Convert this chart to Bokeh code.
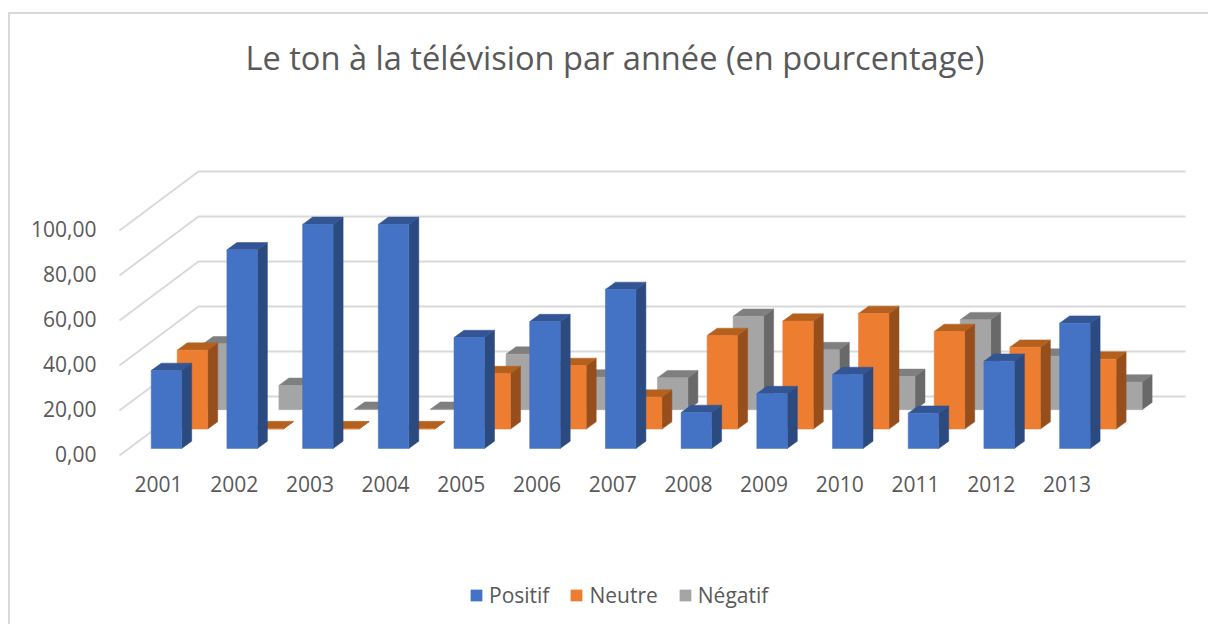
from bokeh.plotting import figure
from bokeh.embed import file_html
from bokeh.resources import INLINE
from bokeh.models import (Range1d, LinearAxis, FixedTicker, Legend, LegendItem, Title)

years = ["2001","2002","2003","2004","2005","2006","2007","2008","2009","2010","2011","2012","2013"]
positif = [34.7,88.3,99.6,99.6,49.3,56.4,70.7,16.0,24.4,32.9,15.7,38.8,55.7]
neutre  = [35.1,0.2,0.2,0.2,24.7,28.3,14.2,41.6,48.0,51.4,43.4,36.4,31.1]
negatif = [29.3,10.8,0.2,0.2,24.7,14.5,14.2,41.5,26.7,14.8,40.0,23.8,12.3]
y_ticks = [0,20,40,60,80,100]
y_labels = ["0,00","20,00","40,00","60,00","80,00","100,00"]
title_text = "Le ton à la télévision par année (en pourcentage)"
FONT = "Open Sans"
TXT = "#595959"
GRID = "#D9D9D9"

PX_X = 1/75.7      # one pixel in category units
PX_Y = 1/2.25      # one pixel in value units

p = figure(width=1198, height=610, output_backend="svg", toolbar_location=None,
           x_range=Range1d((10-158)*PX_X, (1208-158)*PX_X),
           y_range=Range1d((453-624)*PX_Y, (453-86)*PX_Y),
           min_border_left=0, min_border_right=0, min_border_bottom=0, min_border_top=72,
           x_axis_location=None, y_axis_location=None, outline_line_color=None,
           margin=(14, 0, 0, 10),
           styles={"box-shadow": f"-2px 0 0 0 {GRID}, 0 -2px 0 0 {GRID}, -2px -2px 0 0 {GRID}"})
p.xgrid.visible = False
p.ygrid.visible = False

t = Title(text=title_text, text_font=FONT, text_font_size="32.6px", text_font_style="normal",
          text_color=TXT, align="left", offset=235, standoff=13)
p.add_layout(t, "above")

# floor/wall gridlines
fx0, fy0 = (119-158)*PX_X, -2*PX_Y
dx, dy = 79*PX_X, 59*PX_Y
xend = (1185-158)*PX_X
p.multi_line([[fx0, fx0+dx, xend] for _ in y_ticks],
             [[v+fy0, v+fy0+dy, v+fy0+dy] for v in y_ticks],
             line_color=GRID, line_width=2)

LEFT0, WIDTH = -7.3*PX_X, 30.5*PX_X
ROW_X, ROW_Y = 26*PX_X, 19.4*PX_Y
BASE0 = 5*PX_Y
SX, SY = 10*PX_X, 7.3*PX_Y

def bars(vals, row, front, top, side):
    lefts = [i+LEFT0+row*ROW_X for i in range(len(vals))]
    rights = [l+WIDTH for l in lefts]
    base = BASE0 + row*ROW_Y
    tops = [base+v for v in vals]
    p.patches([[r, r+SX, r+SX, r] for r in rights],
              [[base, base+SY, t+SY, t] for t in tops],
              fill_color=side, line_color=side, line_width=0.5)
    p.patches([[l, l+SX, r+SX, r] for l, r in zip(lefts, rights)],
              [[t, t+SY, t+SY, t] for t in tops],
              fill_color=top, line_color=top, line_width=0.5)
    return p.quad(left=lefts, right=rights, top=tops, bottom=[base]*len(vals),
                  fill_color=front, line_color=front, line_width=0.5)

r_neg = bars(negatif, 2, "#A5A5A5", "#7F7F7F", "#696969")
r_neu = bars(neutre, 1, "#ED7D31", "#B4601F", "#964F1C")
r_pos = bars(positif, 0, "#4472C4", "#335593", "#2A4A80")

xa = LinearAxis(fixed_location=(453-472)*PX_Y, ticker=FixedTicker(ticks=list(range(len(years)))),
                major_label_overrides={i: y for i, y in enumerate(years)})
ya = LinearAxis(fixed_location=(99-158)*PX_X, ticker=FixedTicker(ticks=y_ticks),
                major_label_overrides=dict(zip(y_ticks, y_labels)))
for ax in (xa, ya):
    ax.axis_line_color = None
    ax.major_tick_line_color = None
    ax.minor_tick_line_color = None
    ax.major_label_text_font = FONT
    ax.major_label_text_font_size = "21px"
    ax.major_label_text_color = TXT
    ax.major_tick_in = 0
    ax.major_tick_out = 0
    ax.major_label_standoff = 3
p.add_layout(xa, "below")
p.add_layout(ya, "left")

legend = Legend(items=[LegendItem(label="Positif", renderers=[r_pos]),
                       LegendItem(label="Neutre", renderers=[r_neu]),
                       LegendItem(label="Négatif", renderers=[r_neg])],
                orientation="horizontal", location=(459, 15), padding=0, margin=0, spacing=20,
                glyph_width=14, glyph_height=14, label_standoff=6,
                label_text_font=FONT, label_text_font_size="21px", label_text_color=TXT,
                background_fill_alpha=0, border_line_color=None)
p.add_layout(legend)

open("out.html", "w").write(file_html(p, INLINE))
